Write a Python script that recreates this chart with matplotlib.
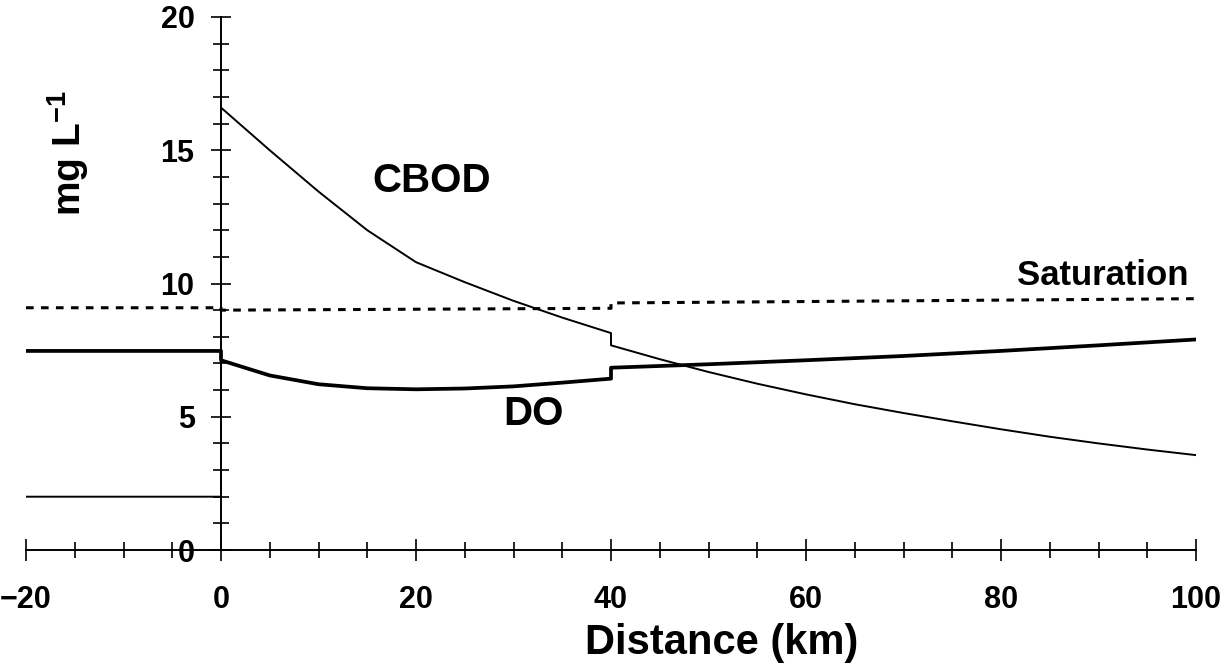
import matplotlib
matplotlib.use("Agg")
import matplotlib.pyplot as plt
from matplotlib.ticker import MultipleLocator

plt.rcParams['font.family'] = ['Liberation Sans', 'DejaVu Sans']
plt.rcParams['font.weight'] = 'bold'
plt.rcParams['mathtext.fontset'] = 'custom'
plt.rcParams['mathtext.rm'] = 'Liberation Sans:bold'
plt.rcParams['mathtext.default'] = 'rm'

# distance (km) and concentrations (mg/L)
km_cbod = [-20, 0, 0, 5, 10, 15, 20, 25, 30, 35, 40, 40, 45, 50, 55, 60,
           65, 70, 75, 80, 85, 90, 95, 100]
cbod = [2.0, 2.0, 16.6, 15.0, 13.45, 12.0, 10.8, 10.05, 9.35, 8.72, 8.14,
        7.68, 7.16, 6.68, 6.24, 5.84, 5.47, 5.14, 4.83, 4.53, 4.25, 4.0,
        3.77, 3.56]

km_do = [-20, 0, 0, 5, 10, 15, 20, 25, 30, 35, 40, 40, 50, 60, 70, 80, 90, 100]
do = [7.47, 7.47, 7.12, 6.55, 6.22, 6.07, 6.03, 6.06, 6.14, 6.28, 6.43,
      6.84, 6.97, 7.12, 7.28, 7.47, 7.68, 7.9]

km_sat = [-20, 0, 0, 40, 40, 100]
sat = [9.09, 9.09, 9.0, 9.07, 9.27, 9.43]

fig = plt.figure(figsize=(12.3, 6.7), dpi=100)
ax = fig.add_axes([26 / 1230, 120 / 670, 1170 / 1230, 533 / 670])

ax.plot(km_cbod, cbod, color='black', lw=1.4)
ax.plot(km_do, do, color='black', lw=2.7)
ax.plot(km_sat, sat, color='black', lw=2.2, linestyle=(0, (2.5, 2.4)))

ax.set_xlim(-20, 100)
ax.set_ylim(0, 20)

# axes cross at the origin like the original drawing
for side in ['top', 'right']:
    ax.spines[side].set_visible(False)
ax.spines['left'].set_position(('data', 0))
ax.spines['bottom'].set_position(('data', 0))
ax.spines['left'].set_linewidth(1.4)
ax.spines['bottom'].set_linewidth(1.4)

ax.xaxis.set_major_locator(MultipleLocator(20))
ax.xaxis.set_minor_locator(MultipleLocator(5))
ax.yaxis.set_major_locator(MultipleLocator(5))
ax.yaxis.set_minor_locator(MultipleLocator(1))

ax.tick_params(axis='x', which='major', direction='inout', length=16, width=1.2,
               labelsize=22, pad=17)
ax.tick_params(axis='x', which='minor', direction='inout', length=12, width=1.2)
ax.tick_params(axis='y', which='major', direction='inout', length=14, width=1.2,
               labelsize=22, pad=12)
ax.tick_params(axis='y', which='minor', direction='inout', length=11, width=1.2)

ax.set_xlabel('Distance (km)', fontsize=30, fontweight='bold', va='center')
ax.xaxis.set_label_coords(51.4, -3.5, transform=ax.transData)
ax.set_ylabel(r'mg L$^{-1}$', fontsize=28, fontweight='bold', va='center')
ax.yaxis.set_label_coords(-15.7, 14.9, transform=ax.transData)

ax.text(15.5, 13.42, 'CBOD', fontsize=29, ha='left', va='baseline')
ax.text(29.0, 4.68, 'DO', fontsize=29, ha='left', va='baseline')
ax.text(81.6, 9.95, 'Saturation', fontsize=25, ha='left', va='baseline')

fig.savefig('out.png', dpi=100)
